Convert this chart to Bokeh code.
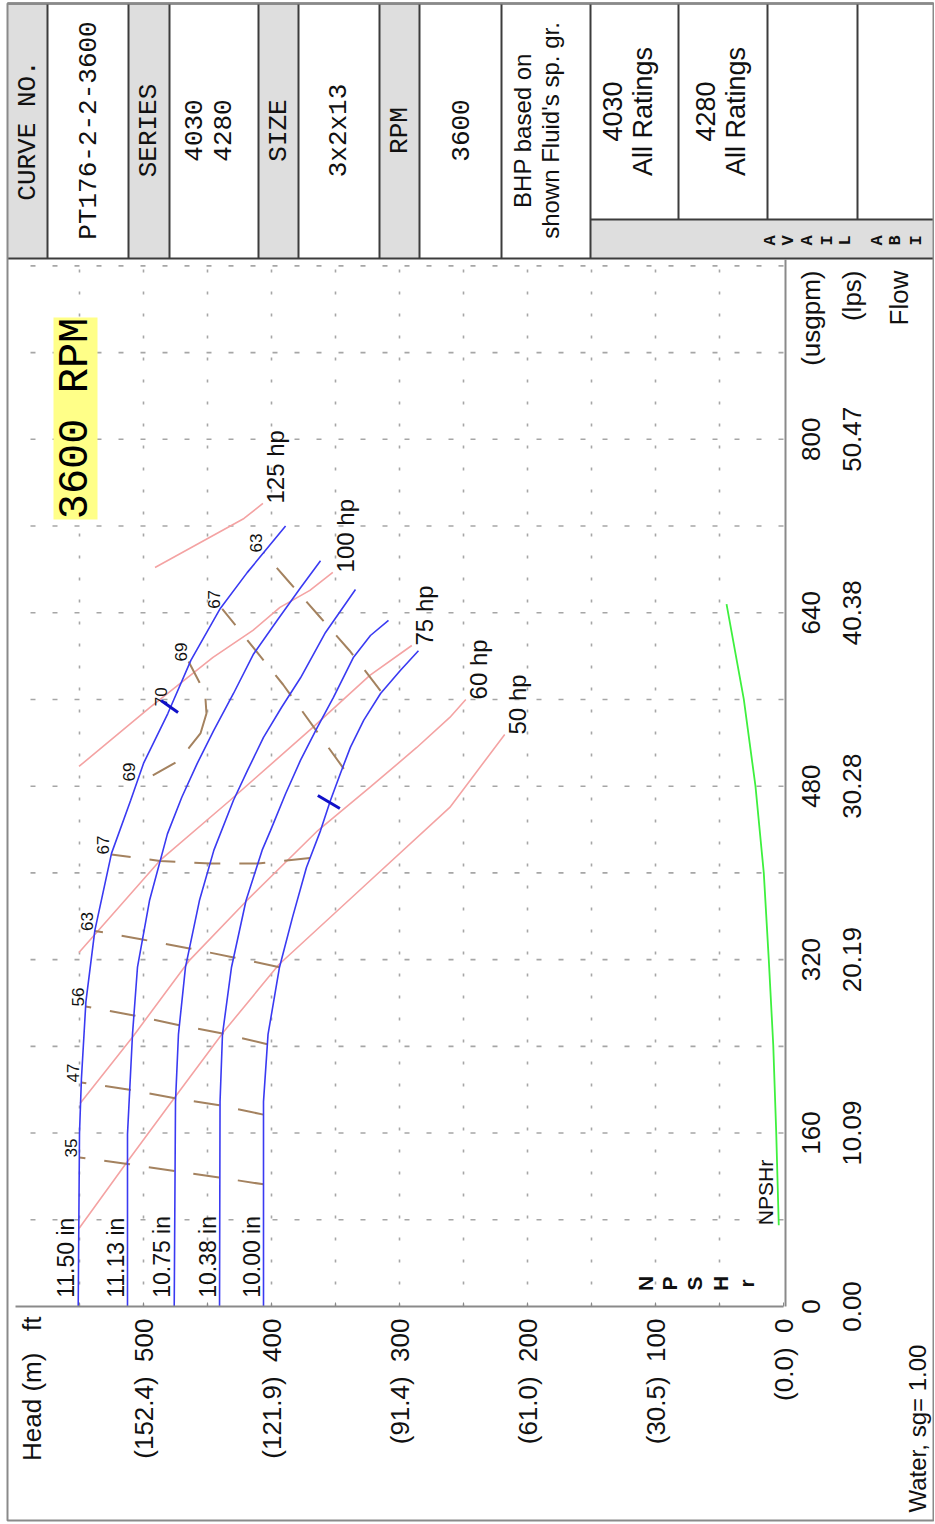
import math
from bokeh.plotting import figure
from bokeh.models import Range1d, LinearAxis, FixedTicker, ColumnDataSource
from bokeh.core.properties import value
from bokeh.embed import file_html
from bokeh.resources import INLINE

NB = "\u00a0"

# ---------------- axis ticks / labels ----------------
head_ticks = [0, 100, 200, 300, 400, 500]
head_minor_ticks = [50, 150, 250, 350, 450, 550]
head_m_labels = ["(0.0)", "(30.5)", "(61.0)", "(91.4)", "(121.9)", "(152.4)"]
flow_ticks = [0, 160, 320, 480, 640, 800]
flow_usgpm_labels = ["0", "160", "320", "480", "640", "800"]
flow_lps_labels = ["0.00", "10.09", "20.19", "30.28", "40.38", "50.47"]
head_grid = [50, 100, 150, 200, 250, 300, 350, 400, 450, 500, 550]
flow_grid = [80, 160, 240, 320, 400, 480, 560, 640, 720, 800, 880, 960]
HEAD_MAX = 600
FLOW_MAX = 966

# ---------------- impeller head curves (flow usgpm, head ft) ----------------
impellers = ["11.50 in", "11.13 in", "10.75 in", "10.38 in", "10.00 in"]
flow_1150 = [0, 160, 210, 281, 347, 418, 467, 501, 547, 596, 644, 677, 720]
head_1150 = [551, 550, 548.5, 545, 538, 525, 510, 500, 481, 463, 440, 419, 389]
flow_1113 = [0, 159, 251, 313, 374.5, 436, 470, 501, 531, 565.5, 602, 633, 663, 688]
head_1113 = [512.5, 512.5, 508.6, 504.7, 495.3, 481.3, 470, 458, 445.3, 429.7, 414, 395.5, 377.3, 361.7]
flow_1075 = [0, 189, 251, 313, 374.5, 421, 467, 494.5, 525, 552.6, 580, 621.8, 661.4]
head_1075 = [476, 475, 472.7, 467.2, 456.3, 445, 429.7, 418.75, 406.25, 392.2, 377.3, 357.8, 334.4]
flow_1038 = [0, 189, 251, 313, 374.5, 421, 439, 473, 504, 534, 562, 599, 619, 633]
head_1038 = [440.6, 440.2, 438.3, 431.25, 419.9, 407.3, 400.8, 389, 377.3, 364.3, 351.6, 335.9, 322.7, 308.6]
flow_1000 = [0, 189, 251, 313, 359, 405, 439, 467, 492, 516, 541, 565.5, 587, 605]
head_1000 = [406.25, 406.25, 402.7, 393.75, 383.6, 372.7, 361.7, 353.9, 346.1, 338.3, 327.9, 314.8, 299.2, 285.2]

# ---------------- power (bhp) lines ----------------
hp_labels = ["50 hp", "60 hp", "75 hp", "100 hp", "125 hp"]
flow_50hp = [72, 132, 191.9, 253.7, 315.5, 388.4, 460.4, 527.7]
head_50hp = [550.4, 513.7, 476.2, 437.2, 394.2, 327.1, 260.7, 217.8]
flow_60hp = [187.3, 249.1, 318.8, 374.6, 439.1, 478.8, 515.7, 543.4, 560]
head_60hp = [549.6, 508.2, 464.5, 419.2, 363.8, 323.2, 286.5, 260.7, 248.2]
flow_75hp = [326.6, 411.5, 466.8, 534.2, 582.2, 609.8]
head_75hp = [550.4, 487.1, 432.5, 367.7, 323.2, 290.4]
flow_100hp = [498.2, 552.6, 598.8, 623.7, 644.9, 660.6, 677.2]
head_100hp = [550.4, 494.9, 445.7, 414.5, 393.4, 370, 352.1]
flow_125hp = [681.8, 727, 740.8]
head_125hp = [491, 421.5, 406.7]

# ---------------- efficiency contours (%) ----------------
eff_35_flow = [112.7, 118.9, 124.9, 131.5, 137.5]
eff_35_head = [406.25, 440.35, 475.3, 512.5, 550.1]
eff_47_flow = [177, 185.5, 192, 200, 206.6]
eff_47_head = [406.25, 440.2, 474.9, 510.8, 548.6]
eff_56_flow = [242, 251.8, 259.5, 268.5, 276.7]
eff_56_head = [403.2, 438.2, 472, 507.5, 545.2]
eff_63a_flow = [313, 322, 330.3, 338.6, 346.5]
eff_63a_head = [393.75, 429.5, 464.1, 500.8, 538]
eff_67a_flow = [413.7, 408.7, 408.7, 411, 417]
eff_67a_head = [369.9, 410.6, 447.9, 487, 525.2]
eff_69_flow = [595, 575.6, 560.9, 547, 528.6, 514.8, 501.8, 489.9, 484.3]
eff_69_head = [464.8, 456.25, 451.6, 450.8, 455.5, 464.8, 475, 493, 504.7]
eff_67b_flow = [496, 573.8, 643.6]
eff_67b_head = [343.5, 391, 438.5]
eff_63b_flow = [568, 605.2, 636.5, 667.9, 695.6]
eff_63b_head = [314.8, 339.1, 362.5, 385.9, 406.25]
eff_label_text = ["35", "47", "56", "63", "67", "69", "70", "69", "67", "63"]
eff_label_flow = [137.5, 206.6, 276.7, 346.5, 417, 484.3, 553.7, 595, 643.6, 695.6]
eff_label_head = [550.1, 548.6, 545.2, 538, 525.2, 504.7, 480, 464.8, 438.5, 406.25]

# best-efficiency markers (short strokes across the curves)
bep_flow0 = [559.1, 471.4]
bep_flow1 = [548.0, 459.4]
bep_head0 = [486.3, 363.8]
bep_head1 = [473.0, 346.6]

# ---------------- NPSHr ----------------
npsh_flow = [75, 161, 241, 320, 400, 480, 560, 648]
npsh_head = [3.7, 5.7, 8.0, 11.5, 15.4, 21.9, 31, 44.5]

# ================= figure =================
X0, SX, Y0, SY = 783.0, 1.28, 1306.0, 1.084   # pixel layout of the scales
W, H = 934, 1522


def hx(px):  # pixel x -> head
    return (X0 - px) / SX


def fy(py):  # pixel y -> flow
    return (Y0 - py) / SY


p = figure(width=W, height=H, x_range=Range1d(hx(0), hx(W)), y_range=Range1d(fy(H), fy(0)),
           output_backend="svg", toolbar_location=None, x_axis_location=None, y_axis_location=None,
           min_border=0)
p.title.visible = False
for g in p.grid:
    g.visible = False
p.outline_line_color = None
p.background_fill_color = "white"
p.border_fill_color = "white"

SANS = "Liberation Sans"
MONO = "Liberation Mono"
ANG = math.pi / 2
INK = "#111111"


def vtext(xs, ys, texts, size, font=SANS, align="center", baseline="middle", color=INK, style="normal"):
    src = ColumnDataSource(dict(x=xs, y=ys, text=texts))
    p.text(x="x", y="y", text="text", source=src, angle=ANG, text_align=align, text_baseline=baseline,
           text_font=value(font), text_font_size=size, text_color=color, text_font_style=style)


# ---------------- header table ----------------
gray_cols = [(7, 47), (128, 169), (258, 298), (379, 419)]
p.quad(left=[hx(a) for a, b in gray_cols], right=[hx(b) for a, b in gray_cols],
       top=[fy(3)] * 4, bottom=[fy(258)] * 4, fill_color="#dedede", line_color=None)
p.quad(left=[hx(590)], right=[hx(933)], top=[fy(219)], bottom=[fy(258)], fill_color="#dedede", line_color=None)
full_sep = [47, 128, 169, 258, 298, 379, 419, 501, 590]
part_sep = [678, 767, 857]
p.segment(x0=[hx(v) for v in full_sep], x1=[hx(v) for v in full_sep], y0=[fy(3)] * len(full_sep),
          y1=[fy(258)] * len(full_sep), line_color="#3c3c3c", line_width=2)
p.segment(x0=[hx(v) for v in part_sep], x1=[hx(v) for v in part_sep], y0=[fy(3)] * len(part_sep),
          y1=[fy(219)] * len(part_sep), line_color="#3c3c3c", line_width=2)
p.segment(x0=[hx(590), hx(7), hx(7)], x1=[hx(933), hx(933), hx(933)], y0=[fy(219), fy(258), fy(3)],
          y1=[fy(219), fy(258), fy(3)], line_color="#3c3c3c", line_width=2)
# outer frame of the sheet
p.quad(left=[hx(7)], right=[hx(933)], top=[fy(3)], bottom=[fy(1520)], fill_color=None,
       line_color="#8a8a8a", line_width=2)

vtext([hx(27), hx(88), hx(148), hx(193), hx(222), hx(278), hx(338), hx(399), hx(460)],
      [fy(130)] * 9,
      ["CURVE NO.", "PT176-2-2-3600", "SERIES", "4030", "4280", "SIZE", "3x2x13", "RPM", "3600"],
      "26px", font=MONO)
vtext([hx(522), hx(550)], [fy(130)] * 2, ["BHP based on", "shown Fluid's sp. gr."], "24px")
vtext([hx(612), hx(642), hx(705), hx(735)], [fy(111)] * 4, ["4030", "All Ratings", "4280", "All Ratings"], "27px")
avail = ["A", "V", "A", "I", "L", "A", "B", "I"]
vtext([hx(v) for v in [770, 788, 807, 827, 845, 877, 895, 916]], [fy(240)] * 8, avail, "17px", font=MONO,
      style="bold")

# ---------------- grid ----------------
p.segment(x0=head_grid, x1=head_grid, y0=[0] * len(head_grid), y1=[FLOW_MAX] * len(head_grid),
          line_color="#a6a6a6", line_width=1.6, line_dash="3 19")
p.segment(x0=[0] * len(flow_grid), x1=[HEAD_MAX] * len(flow_grid), y0=flow_grid, y1=flow_grid,
          line_color="#a6a6a6", line_width=1.6, line_dash="5 17")

# ---------------- 3600 RPM badge ----------------
p.quad(left=[hx(53)], right=[hx(97)], top=[fy(317)], bottom=[fy(519)], fill_color="#ffff88", line_color=None)
vtext([hx(75)], [fy(418)], ["3600 RPM"], "42px", font=MONO, color="#000000")

# ---------------- power lines ----------------
PINK = "#f4a3a3"
hp_flows = [flow_50hp, flow_60hp, flow_75hp, flow_100hp, flow_125hp]
hp_heads = [head_50hp, head_60hp, head_75hp, head_100hp, head_125hp]
p.multi_line(xs=hp_heads, ys=hp_flows, line_color=PINK, line_width=1.6)
vtext([h[-1] - 13 / SX for h in hp_heads], [f[-1] for f in hp_flows], hp_labels, "24px", align="left")

# ---------------- efficiency contours ----------------
BROWN = "#a4825f"
eff_f = [eff_35_flow, eff_47_flow, eff_56_flow, eff_63a_flow, eff_67a_flow, eff_67b_flow, eff_63b_flow]
eff_h = [eff_35_head, eff_47_head, eff_56_head, eff_63a_head, eff_67a_head, eff_67b_head, eff_63b_head]
p.multi_line(xs=eff_h, ys=eff_f, line_color=BROWN, line_width=2, line_dash="26 19")
p.line(eff_69_head, eff_69_flow, line_color=BROWN, line_width=2, line_dash="24 17 55 19 26 40")
vtext([h + 8 / SX for h in eff_label_head], eff_label_flow, eff_label_text, "17px", align="left")

# ---------------- impeller curves ----------------
BLUE = "#3a3af2"
cur_f = [flow_1150, flow_1113, flow_1075, flow_1038, flow_1000]
cur_h = [head_1150, head_1113, head_1075, head_1038, head_1000]
p.multi_line(xs=cur_h, ys=cur_f, line_color=BLUE, line_width=1.6)
vtext([h[0] + 12 / SX for h in cur_h], [8] * 5, impellers, "23px", align="left")
p.segment(x0=bep_head0, x1=bep_head1, y0=bep_flow0, y1=bep_flow1, line_color="#1010c8", line_width=3)

# ---------------- NPSHr ----------------
p.line(npsh_head, npsh_flow, line_color="#3ef03e", line_width=1.8)
vtext([npsh_head[0] + 13 / SX], [npsh_flow[0]], ["NPSHr"], "21px", align="left")
vtext([hx(v) for v in [645, 669, 694, 720, 746]], [fy(1283)] * 5, ["N", "P", "S", "H", "r"], "21px",
      style="bold")

# ---------------- axis titles / notes ----------------
vtext([hx(31)], [fy(1316)], ["Head (m)" + NB * 3 + "ft"], "26px", align="right")
vtext([hx(810), hx(851), hx(898)], [fy(270)] * 3, ["(usgpm)", "(lps)", "Flow"], "26px", align="right")
vtext([hx(917)], [fy(1512)], ["Water, sg= 1.00"], "24px", align="left")

# ---------------- axes ----------------
head_axis = LinearAxis(fixed_location=0, bounds=(0, HEAD_MAX),
                       ticker=FixedTicker(ticks=head_ticks, minor_ticks=head_minor_ticks),
                       major_label_overrides={t: m + NB + NB + str(t) for t, m in zip(head_ticks, head_m_labels)},
                       major_label_orientation=math.pi / 2, major_label_standoff=12,
                       major_label_text_font=SANS, major_label_text_font_size="26px",
                       major_label_text_color=INK,
                       axis_line_color="#8a8a8a", axis_line_width=2,
                       major_tick_in=4, major_tick_out=0, minor_tick_in=4, minor_tick_out=0,
                       major_tick_line_color="#8a8a8a", minor_tick_line_color="#8a8a8a")
p.add_layout(head_axis, "below")

# flow axis: the right border line of the plot area (its rotated tick labels are drawn below, centred on the ticks)
flow_axis = LinearAxis(fixed_location=hx(785), bounds=(0, FLOW_MAX),
                       ticker=FixedTicker(ticks=flow_ticks, minor_ticks=flow_grid),
                       major_label_text_color=None,
                       axis_line_color="#8a8a8a", axis_line_width=2,
                       major_tick_in=0, major_tick_out=0, minor_tick_in=0, minor_tick_out=0)
p.add_layout(flow_axis, "right")
vtext([hx(810)] * len(flow_ticks), flow_ticks, flow_usgpm_labels, "26px")
vtext([hx(851)] * len(flow_ticks), flow_ticks, flow_lps_labels, "26px")

open("out.html", "w").write(file_html(p, INLINE))
